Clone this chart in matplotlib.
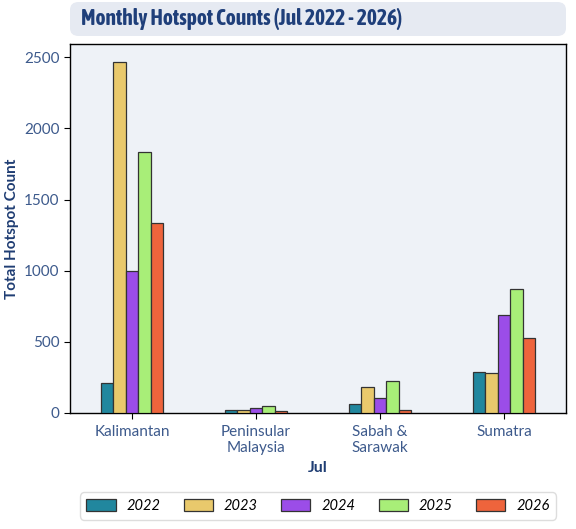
import matplotlib
matplotlib.use("Agg")
import matplotlib.pyplot as plt
import numpy as np
from matplotlib.patches import FancyBboxPatch
from matplotlib import font_manager

regions = ["Kalimantan", "Peninsular\nMalaysia", "Sabah &\nSarawak", "Sumatra"]
years = ["2022", "2023", "2024", "2025", "2026"]
v2022 = [208, 21, 63, 288]
v2023 = [2470, 21, 182, 280]
v2024 = [995, 35, 105, 688]
v2025 = [1837, 49, 225, 870]
v2026 = [1334, 14, 21, 526]
series = [v2022, v2023, v2024, v2025, v2026]
colors = ["#21879e", "#e9c96c", "#9b4de8", "#a8ee78", "#ee643c"]

plt.rcParams['font.family'] = ['Lato', 'DejaVu Sans']

# find a narrow/condensed family for the title if available
title_family = None
for f in font_manager.fontManager.ttflist:
    n = f.name
    if ('Condensed' in n or 'Narrow' in n) and f.weight in ('bold', 700, 'heavy'):
        title_family = n
        break
if title_family is None:
    for f in font_manager.fontManager.ttflist:
        if 'Condensed' in f.name or 'Narrow' in f.name:
            title_family = f.name
            break
if title_family is None:
    title_family = 'Roboto'

fig = plt.figure(figsize=(5.76, 5.29), dpi=100)
W, H = 576, 529
ax = fig.add_axes([70/W, 1-413/H, (566-70)/W, (413-44)/H])
ax.set_facecolor("#eef2f7")

x = np.arange(len(regions))
bw = 0.1
for i, (vals, c, y) in enumerate(zip(series, colors, years)):
    ax.bar(x + (i-2)*bw, vals, width=bw, color=c, edgecolor="#333333",
           linewidth=0.9, label=y, zorder=3)

ax.set_xlim(-0.5, 3.5)
ax.set_ylim(0, 2593)
ax.set_xticks(x)
ax.set_xticklabels(regions, fontsize=11, color="#3d5a8c", linespacing=1.15)
ax.set_yticks([0, 500, 1000, 1500, 2000, 2500])
ax.tick_params(axis='y', labelsize=11, labelcolor="#3d5a8c")
ax.tick_params(axis='both', color="black", length=4)
ax.tick_params(axis='x', pad=5)
for s in ax.spines.values():
    s.set_color("black")
    s.set_linewidth(1.0)
ax.set_ylabel("Total Hotspot Count", fontsize=11, fontweight="bold", color="#1f3d73", labelpad=4)
ax.set_xlabel("Jul", fontsize=11.5, fontweight="bold", color="#1f3d73", labelpad=4)

# title box
box = FancyBboxPatch((70/W, 1-36/H), (566-70)/W, 34/H,
                     boxstyle="round,pad=0,rounding_size=0.015",
                     transform=fig.transFigure, facecolor="#e6eaf2",
                     edgecolor="none")
fig.patches.append(box)
fig.text(81/W, 1-19/H, "Monthly Hotspot Counts (Jul 2022 - 2026)",
         fontsize=15.5, fontweight="bold", color="#1f3f7a",
         va="center", ha="left", fontstretch="condensed",
         family=[title_family, 'DejaVu Sans'])

leg = fig.legend(loc="center", bbox_to_anchor=(318/W, 1-506/H), ncol=5,
                 frameon=True, handlelength=2.0, handleheight=0.9,
                 columnspacing=1.6, handletextpad=0.75, borderpad=0.45,
                 prop={'style': 'italic', 'size': 10.5})
leg.get_frame().set_edgecolor("#d5d5d5")
leg.get_frame().set_boxstyle("round,pad=0,rounding_size=0.3")

fig.savefig("out.png", dpi=100)
